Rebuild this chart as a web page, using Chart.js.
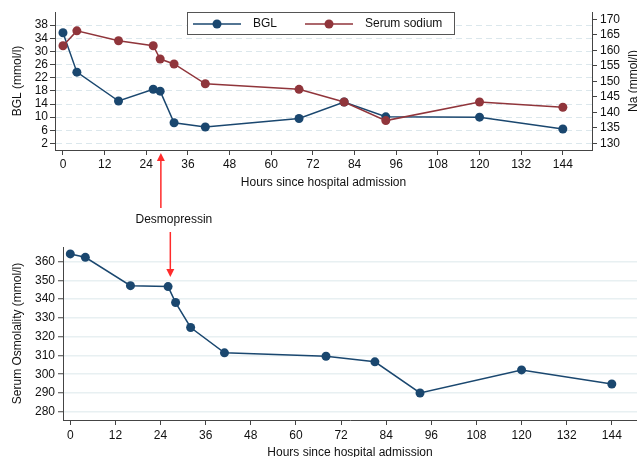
<!DOCTYPE html>
<html>
<head>
<meta charset="utf-8">
<script src="https://cdn.jsdelivr.net/npm/chart.js@4"></script>
<style>
  html, body { margin: 0; padding: 0; background: #fff; overflow: hidden; width: 637px; height: 457px; }
  canvas { position: absolute; left: 0; }
  #topChart { top: 0; }
  #bottomChart { top: 226px; }
</style>
</head>
<body>
<canvas id="topChart" width="637" height="226"></canvas>
<canvas id="bottomChart" width="637" height="236"></canvas>
<script>
// values
const hours = [0, 4, 16, 26, 28, 32, 41, 68, 81, 93, 120, 144];
const bgl = [35.7, 23.7, 14.9, 18.5, 17.9, 8.3, 7.0, 9.6, 14.6, 10.1, 10.0, 6.4];
const sodium = [161.5, 166.3, 163.1, 161.5, 157.2, 155.6, 149.2, 147.4, 143.3, 137.3, 143.3, 141.6];
const osmolality = [364.1, 362.3, 347.2, 346.7, 338.2, 324.9, 311.4, 309.6, 306.6, 290.0, 302.3, 294.8];

// tick labels
const hourTicks = [0, 12, 24, 36, 48, 60, 72, 84, 96, 108, 120, 132, 144];
const bglTicks = [2, 6, 10, 14, 18, 22, 26, 30, 34, 38];
const naTicks = [130, 135, 140, 145, 150, 155, 160, 165, 170];
const osmoTicks = [280, 290, 300, 310, 320, 330, 340, 350, 360];

// annotation
const desmoLabel = "Desmopressin";
const desmoHourTop = 28.2;
const desmoHourBottom = 26.6;

const blue = "#1a476f";
const red = "#90353b";
const arrowRed = "#ff2b2b";
const axisColor = "#444";
const textColor = "#111";
const font = { family: "'Liberation Sans', Arial, sans-serif", size: 12 };
const fontStr = "12px 'Liberation Sans', Arial, sans-serif";

const toPoints = (xs, ys) => xs.map((x, i) => ({ x: x, y: ys[i] }));
const setTicks = list => scale => { scale.ticks = list.map(v => ({ value: v })); };

function drawArrow(ctx, x, y0, y1) {
    const dir = Math.sign(y1 - y0);
    ctx.save();
    ctx.strokeStyle = arrowRed;
    ctx.fillStyle = arrowRed;
    ctx.lineWidth = 1.5;
    ctx.beginPath();
    ctx.moveTo(x, y0);
    ctx.lineTo(x, y1 - dir * 6);
    ctx.stroke();
    ctx.beginPath();
    ctx.moveTo(x, y1);
    ctx.lineTo(x - 4, y1 - dir * 8);
    ctx.lineTo(x + 4, y1 - dir * 8);
    ctx.closePath();
    ctx.fill();
    ctx.restore();
}

// legend, right axis title and arrow for the top chart
const topExtras = {
    id: "topExtras",
    afterDraw(chart) {
        const ctx = chart.ctx;
        const area = chart.chartArea;
        ctx.save();
        // legend box
        ctx.fillStyle = "#fff";
        ctx.fillRect(187.5, 12.5, 267, 22);
        ctx.strokeStyle = "#555";
        ctx.lineWidth = 1;
        ctx.strokeRect(187.5, 12.5, 267, 22);
        const items = [
            { x: 193, ds: chart.data.datasets[1] },
            { x: 305, ds: chart.data.datasets[0] }
        ];
        items.forEach(it => {
            ctx.strokeStyle = it.ds.borderColor;
            ctx.lineWidth = 1.5;
            ctx.beginPath();
            ctx.moveTo(it.x, 24);
            ctx.lineTo(it.x + 48, 24);
            ctx.stroke();
            ctx.fillStyle = it.ds.borderColor;
            ctx.beginPath();
            ctx.arc(it.x + 24, 24, 4.5, 0, Math.PI * 2);
            ctx.fill();
            ctx.fillStyle = textColor;
            ctx.font = fontStr;
            ctx.textBaseline = "middle";
            ctx.textAlign = "left";
            ctx.fillText(it.ds.label, it.x + 60, 24);
        });
        // right axis title, reading bottom to top
        ctx.translate(634, (area.top + area.bottom) / 2);
        ctx.rotate(-Math.PI / 2);
        ctx.textAlign = "center";
        ctx.textBaseline = "middle";
        ctx.fillStyle = textColor;
        ctx.font = fontStr;
        ctx.fillText("Na (mmol/l)", 0, 0);
        ctx.restore();

        const x = chart.scales.x.getPixelForValue(desmoHourTop);
        drawArrow(ctx, x, 208, area.bottom + 3);
        ctx.save();
        ctx.fillStyle = textColor;
        ctx.font = fontStr;
        ctx.textAlign = "center";
        ctx.textBaseline = "middle";
        ctx.fillText(desmoLabel, x + 13, 220);
        ctx.restore();
    }
};

const bottomExtras = {
    id: "bottomExtras",
    afterDraw(chart) {
        const x = chart.scales.x.getPixelForValue(desmoHourBottom);
        drawArrow(chart.ctx, x, 6, 51);
    }
};

const lineStyle = color => ({
    borderColor: color,
    backgroundColor: color,
    borderWidth: 1.5,
    pointRadius: 4.5,
    pointBorderWidth: 0,
    pointBackgroundColor: color,
    fill: false,
    tension: 0
});

new Chart(document.getElementById("topChart").getContext("2d"), {
    type: "line",
    data: {
        datasets: [
            Object.assign({ label: "Serum sodium", data: toPoints(hours, sodium), yAxisID: "y1", order: 0 }, lineStyle(red)),
            Object.assign({ label: "BGL", data: toPoints(hours, bgl), yAxisID: "y", order: 1 }, lineStyle(blue))
        ]
    },
    options: {
        responsive: false,
        animation: false,
        layout: { autoPadding: false, padding: { top: 12, bottom: 36, left: 0, right: 0 } },
        plugins: { legend: { display: false }, tooltip: { enabled: false } },
        scales: {
            x: {
                type: "linear",
                min: -2.3,
                max: 152.4,
                afterBuildTicks: setTicks(hourTicks),
                afterFit: s => { s.height = 40; },
                grid: { drawOnChartArea: false, color: axisColor, tickLength: 5 },
                border: { color: axisColor },
                ticks: { font, color: textColor, padding: 2, maxRotation: 0, autoSkip: false },
                title: { display: true, text: "Hours since hospital admission", font, color: textColor, padding: { top: 0, bottom: 0 } }
            },
            y: {
                position: "left",
                min: 0,
                max: 42,
                afterBuildTicks: setTicks(bglTicks),
                afterFit: s => { s.width = 55; },
                grid: { color: "#dbe7ec", tickColor: axisColor, tickLength: 5 },
                border: { color: axisColor, dash: [6, 4] },
                ticks: { font, color: textColor, padding: 2, autoSkip: false },
                title: { display: true, text: "BGL (mmol/l)", font, color: textColor, padding: { top: 10.5, bottom: 0 } }
            },
            y1: {
                position: "right",
                min: 127.8,
                max: 172.4,
                afterBuildTicks: setTicks(naTicks),
                afterFit: s => { s.width = 45; },
                grid: { drawOnChartArea: false, color: axisColor, tickLength: 5 },
                border: { color: axisColor },
                ticks: { font, color: textColor, padding: 3, autoSkip: false }
            }
        }
    },
    plugins: [topExtras]
});

new Chart(document.getElementById("bottomChart").getContext("2d"), {
    type: "line",
    data: {
        datasets: [
            Object.assign({ label: "Serum Osmolality", data: toPoints(hours, osmolality) }, lineStyle(blue))
        ]
    },
    options: {
        responsive: false,
        animation: false,
        layout: { autoPadding: false, padding: { top: 21, bottom: 0, left: 0, right: 0 } },
        plugins: { legend: { display: false }, tooltip: { enabled: false } },
        scales: {
            x: {
                type: "linear",
                min: -1.94,
                max: 150.7,
                afterBuildTicks: setTicks(hourTicks),
                afterFit: s => { s.height = 42; s.paddingLeft = 0; s.paddingRight = 0; },
                grid: { drawOnChartArea: false, color: axisColor, tickLength: 5 },
                border: { color: axisColor },
                ticks: { font, color: textColor, padding: 3, maxRotation: 0, autoSkip: false },
                title: { display: true, text: "Hours since hospital admission", font, color: textColor, padding: { top: 0, bottom: 2.5 } }
            },
            y: {
                min: 275.6,
                max: 367.8,
                afterBuildTicks: setTicks(osmoTicks),
                afterFit: s => { s.width = 63; },
                grid: { color: "#e8f0f2", lineWidth: 1.5, tickColor: axisColor, tickLength: 5, tickWidth: 1 },
                border: { color: axisColor },
                ticks: { font, color: textColor, padding: 3, autoSkip: false },
                title: { display: true, text: "Serum Osmolality (mmol/l)", font, color: textColor, padding: { top: 10.8, bottom: 0 } }
            }
        }
    },
    plugins: [bottomExtras]
});
</script>
</body>
</html>
